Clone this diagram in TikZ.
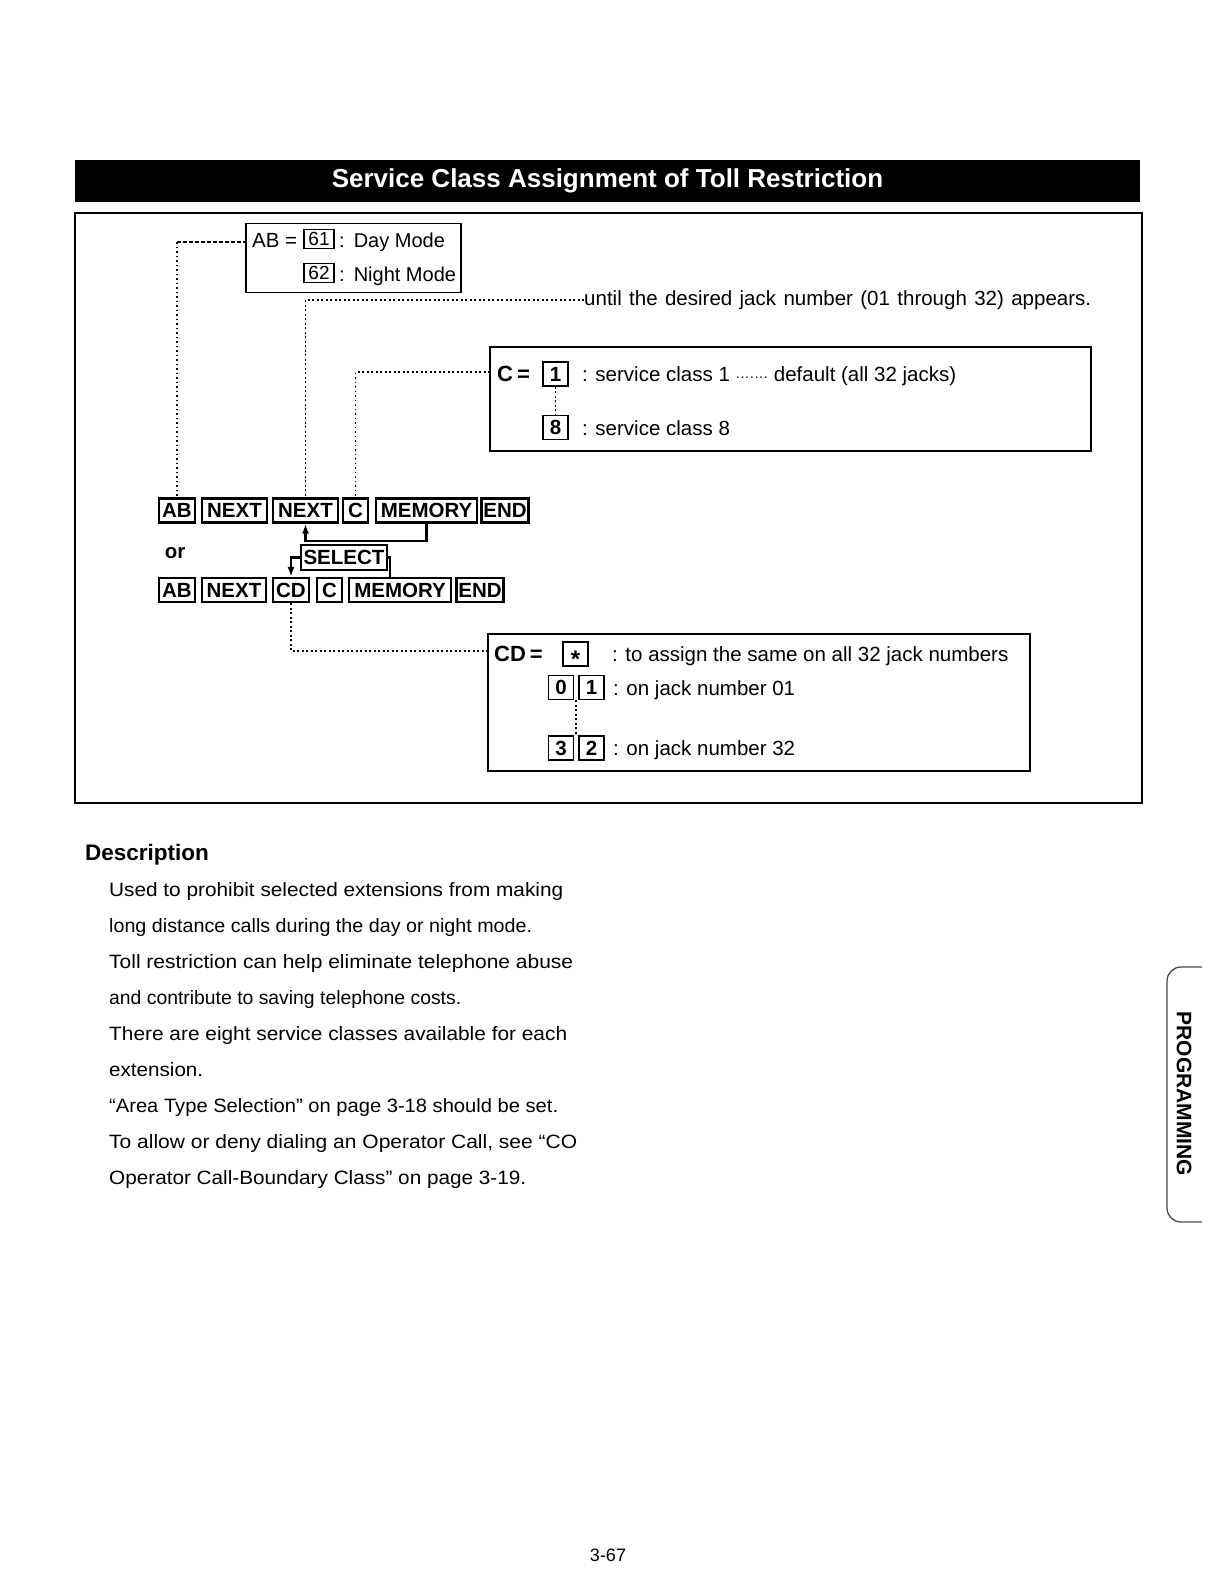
\documentclass[tikz,border=0pt]{standalone}
\usepackage{fontspec}
\usepackage{graphicx}
\setmainfont{Liberation Sans}
\usetikzlibrary{arrows.meta,positioning}
\newcommand{\boxfont}{\fontsize{20.5}{24}\selectfont}
\newcommand{\keyfont}{\fontsize{20.5}{24}\selectfont\bfseries}
\newcommand{\bodyfont}{\fontsize{19.3}{22}\selectfont}
\newcommand{\spreadline}[2]{\makebox[#1pt][s]{#2}}
\newcommand{\fitline}[2]{\resizebox{#1pt}{\height}{#2}}
\tikzset{
  frame/.style={draw=black,line width=2pt},
  titlebar/.style={fill=black,text=white,inner sep=0pt,minimum width=1065pt,minimum height=42pt,
                   font=\fontsize{26}{30}\selectfont\bfseries},
  panel/.style={draw=black,line width=1.8pt,inner sep=0pt},
  key/.style={draw=black,line width=2.2pt,inner sep=0pt,minimum height=24pt,font=\keyfont},
  digit/.style={draw=black,line width=1.8pt,inner sep=0pt,minimum width=25pt,minimum height=24pt,
                font=\boxfont\bfseries},
  mode/.style={digit,minimum width=30pt,minimum height=19pt,font=\fontsize{19}{20}\selectfont},
  guide/.style={black,line width=1.9pt,dash pattern=on 1.9pt off 2.6pt},
  link/.style={black,line width=2.2pt},
  flow/.style={-{Latex[length=10pt,width=7pt]},line width=2.2pt},
  lab/.style={font=\boxfont,inner sep=0pt,anchor=base west},
  body/.style={font=\bodyfont,inner sep=0pt,anchor=base west},
}

\begin{document}
\begin{tikzpicture}[x=1pt,y=-1pt]
  \useasboundingbox (0,0) rectangle (1214,1583);
  \node[titlebar] (title) at (607.5,181) {Service Class Assignment of Toll Restriction};
  \draw[frame] (75,213) rectangle (1142,803);

  % day / night mode
  \node[panel,minimum width=215pt,minimum height=69pt] (abbox) at (353.5,258) {};
  \node[lab] (abeq) at (252,247) {AB =};
  \node[mode] (m61) at (319,239) {61};
  \node[lab,font=\fontsize{20}{24}\selectfont] (daytxt) at (339,247) {:\hspace{9pt}Day Mode};
  \node[mode] (m62) at (319,273) {62};
  \node[lab,font=\fontsize{20}{24}\selectfont] (nighttxt) at (339,281) {:\hspace{9pt}Night Mode};
  \coordinate (abin) at (246.5,242);
  \node[lab] (untiltxt) at (584,305) {\spreadline{507}{until the desired jack number (01 through 32) appears.}};

  % service class
  \node[panel,minimum width=601pt,minimum height=104pt] (cbox) at (790.5,399) {};
  \node[lab,font=\fontsize{22}{24}\selectfont\bfseries] (ceq) at (497,381) {C\hspace{4pt}=};
  \node[digit] (c1) at (555.5,374) {1};
  \node[lab] (c1txt) at (582,381) {: service class 1 {\fontsize{14}{14}\selectfont ·······} default (all 32 jacks)};
  \node[digit] (c8) at (555.5,427.5) {8};
  \node[lab] (c8txt) at (582,435) {: service class 8};
  \coordinate (cin) at (490,372);

  % keys
  \node[key,minimum width=36pt] (ab1) at (177,510.5) {AB};
  \node[key,minimum width=65pt] (next1) at (234.5,510.5) {NEXT};
  \node[key,minimum width=65pt] (next2) at (305.5,510.5) {NEXT};
  \node[key,minimum width=25pt] (kc1) at (355.5,510.5) {C};
  \node[key,minimum width=101pt] (mem1) at (426.5,510.5) {MEMORY};
  \node[key,minimum width=47pt] (end1) at (505,510.5) {END};
  \node[font=\keyfont,inner sep=0pt] (ortxt) at (175,553) {or};
  \node[key,minimum width=86pt,minimum height=25pt] (select) at (344,557.5) {SELECT};
  \node[key,minimum width=36pt] (ab2) at (177,590) {AB};
  \node[key,minimum width=64pt] (next3) at (234,590) {NEXT};
  \node[key,minimum width=36pt] (cd2) at (291,590) {CD};
  \node[key,minimum width=25pt] (kc2) at (329.5,590) {C};
  \node[key,minimum width=102pt] (mem2) at (400,590) {MEMORY};
  \node[key,minimum width=47pt] (end2) at (480,590) {END};

  % jack number
  \node[panel,minimum width=542pt,minimum height=137pt] (cdbox) at (759,702.5) {};
  \node[lab,font=\fontsize{22}{24}\selectfont\bfseries] (cdeq) at (494,661) {CD\hspace{4pt}=};
  \node[digit,font=\fontsize{24}{24}\selectfont\bfseries] (jall) at (575.5,654) {\raisebox{-13.6pt}[0pt][0pt]{*}};
  \node[lab] (alltxt) at (612,661) {: to assign the same on all 32 jack numbers};
  \node[digit] (j0) at (561,687.5) {0};
  \node[digit] (j1) at (591.5,687.5) {1};
  \node[lab] (j01txt) at (613,695) {: on jack number 01};
  \node[digit] (j3) at (561,748) {3};
  \node[digit] (j2) at (591.5,748) {2};
  \node[lab] (j32txt) at (613,755) {: on jack number 32};
  \coordinate (cdin) at (488,651);

  \draw[guide,dash pattern=on 3.5pt off 2.5pt] (abin) -- (abin -| ab1.north);
  \draw[guide] (abin -| ab1.north) -- (ab1.north);
  \draw[guide] (untiltxt.west) -| (next2.north);
  \draw[guide] (cin) -| (kc1.north);
  \draw[guide] (c1.south) -- (c8.north);
  \draw[guide] (cd2.south) |- (cdin);
  \draw[guide] ([xshift=-2.5pt]j1.south west) -- ([xshift=-2.5pt]j2.north west);
  \draw[flow] (mem1.south) -- ++(0,17) -| (next2.south);
  \draw[flow] (select.west) -| (cd2.north);
  \draw[link] (select.east) -| ([xshift=-10pt]mem2.north);

  \node[font=\fontsize{22.5}{26}\selectfont\bfseries,inner sep=0pt,anchor=base west] (deschead) at (85,860) {Description};
  \foreach \txt/\linewd [count=\i from 0] in {
    {Used to prohibit selected extensions from making}/454,
    {long distance calls during the day or night mode.}/423,
    {Toll restriction can help eliminate telephone abuse}/464,
    {and contribute to saving telephone costs.}/352,
    {There are eight service classes available for each}/458,
    {extension.}/94,
    {“Area Type Selection” on page 3-18 should be set.}/449,
    {To allow or deny dialing an Operator Call, see “CO}/468,
    {Operator Call-Boundary Class” on page 3-19.}/417}
    \node[body] (desc\i) at (109,896+36*\i) {\fitline{\linewd}{\txt}};

  \draw[black!70,line width=1.3pt,rounded corners=14pt] (1202,967) -- (1167,967) -- (1167,1222) -- (1202,1222);
  \node[font=\fontsize{21}{24}\selectfont\bfseries,rotate=-90,inner sep=0pt] (tab) at (1184,1094) {PROGRAMMING};
  \node[font=\fontsize{18}{22}\selectfont,inner sep=0pt] (pagenum) at (608,1555) {3-67};
\end{tikzpicture}
\end{document}
